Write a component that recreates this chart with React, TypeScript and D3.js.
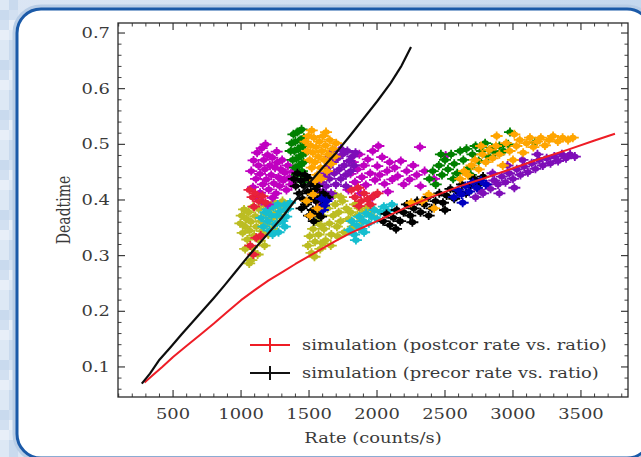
import React from 'react';
import * as d3 from 'd3';

// ---------- data ----------
const xTickValues = [500, 1000, 1500, 2000, 2500, 3000, 3500];
const yTickValues = [0.1, 0.2, 0.3, 0.4, 0.5, 0.6, 0.7];

// simulation (precor rate vs. ratio)
const precorRate = [270, 330, 400, 480, 560, 640, 720, 800, 880, 960, 1040, 1120, 1200, 1300, 1400, 1500, 1600, 1700, 1800, 1900, 2000, 2100, 2180, 2250];
const precorDead = [0.070, 0.088, 0.113, 0.135, 0.158, 0.180, 0.202, 0.224, 0.247, 0.271, 0.295, 0.318, 0.340, 0.368, 0.400, 0.430, 0.458, 0.485, 0.515, 0.546, 0.577, 0.610, 0.641, 0.675];

// simulation (postcor rate vs. ratio)
const postcorRate = [290, 350, 420, 500, 600, 700, 800, 900, 1000, 1100, 1200, 1300, 1400, 1500, 1600, 1700, 1800, 1900, 2000, 2200, 2400, 2600, 2800, 3000, 3200, 3400, 3600, 3750];
const postcorDead = [0.072, 0.085, 0.100, 0.118, 0.138, 0.158, 0.178, 0.199, 0.220, 0.238, 0.255, 0.270, 0.285, 0.299, 0.313, 0.327, 0.340, 0.351, 0.362, 0.385, 0.405, 0.424, 0.440, 0.457, 0.474, 0.490, 0.507, 0.519];

// observation groups: [rate, deadtime]
const olivePts: [number, number][] = [
  [995, 0.358], [1005, 0.372], [1012, 0.341], [1022, 0.383], [1030, 0.352], [1040, 0.366], [1046, 0.329], [1055, 0.378], [1063, 0.345], [1072, 0.361],
  [1080, 0.315], [1088, 0.388], [1096, 0.336], [1105, 0.371], [1113, 0.352], [1122, 0.302], [1130, 0.384], [1138, 0.327], [1146, 0.362], [1155, 0.344],
  [1164, 0.392], [1173, 0.318], [1182, 0.375], [1191, 0.356], [1200, 0.338], [1210, 0.384], [1220, 0.366], [1231, 0.348], [1242, 0.396], [1253, 0.376],
  [1265, 0.358], [1278, 0.388], [1291, 0.370], [1305, 0.398], [1320, 0.382], [1340, 0.392], [1076, 0.292], [1100, 0.305], [1030, 0.312], [1060, 0.286],
  [1492, 0.318], [1505, 0.335], [1518, 0.305], [1530, 0.348], [1544, 0.325], [1556, 0.362], [1570, 0.338], [1583, 0.312], [1596, 0.372], [1610, 0.348],
  [1622, 0.328], [1636, 0.385], [1650, 0.358], [1664, 0.338], [1678, 0.372], [1692, 0.392], [1705, 0.352], [1718, 0.378], [1732, 0.362], [1746, 0.398],
  [1760, 0.342], [1775, 0.385], [1790, 0.366], [1805, 0.378], [1822, 0.352], [1838, 0.392], [1855, 0.372], [1872, 0.385], [1890, 0.362], [1910, 0.378],
  [1932, 0.388], [1955, 0.372], [1980, 0.382], [1540, 0.298], [1600, 0.322], [1660, 0.318], [1710, 0.335], [1585, 0.355], [1735, 0.405], [1690, 0.410],
];
const cyanPts: [number, number][] = [
  [1148, 0.368], [1165, 0.352], [1180, 0.378], [1196, 0.362], [1210, 0.345], [1224, 0.372], [1238, 0.388], [1250, 0.356], [1263, 0.372], [1276, 0.342],
  [1290, 0.380], [1303, 0.362], [1318, 0.391], [1332, 0.370], [1346, 0.384], [1360, 0.395], [1232, 0.338], [1270, 0.392], [1195, 0.383], [1322, 0.352],
  [1798, 0.346], [1815, 0.362], [1832, 0.338], [1850, 0.355], [1868, 0.370], [1885, 0.348], [1902, 0.362], [1920, 0.376], [1940, 0.358], [1960, 0.370],
  [1980, 0.382], [2002, 0.366], [2025, 0.378], [2050, 0.388], [2080, 0.380], [2110, 0.392], [1845, 0.328], [1905, 0.342],
];
const magentaPts: [number, number][] = [
  [1075, 0.452], [1092, 0.471], [1110, 0.438], [1118, 0.485], [1128, 0.462], [1140, 0.447], [1152, 0.493], [1160, 0.428], [1167, 0.472], [1175, 0.455],
  [1186, 0.437], [1195, 0.481], [1204, 0.419], [1212, 0.462], [1222, 0.445], [1230, 0.476], [1241, 0.430], [1250, 0.458], [1258, 0.412], [1266, 0.467],
  [1275, 0.441], [1284, 0.425], [1293, 0.455], [1302, 0.472], [1310, 0.435], [1322, 0.449], [1334, 0.418], [1345, 0.462], [1356, 0.440], [1370, 0.428],
  [1383, 0.452], [1398, 0.436], [1108, 0.405], [1150, 0.398], [1196, 0.392], [1232, 0.404], [1088, 0.423], [1262, 0.487], [1180, 0.500], [1140, 0.413],
  [1790, 0.418], [1805, 0.447], [1822, 0.468], [1838, 0.432], [1856, 0.455], [1870, 0.482], [1889, 0.441], [1903, 0.462], [1918, 0.427], [1932, 0.473],
  [1950, 0.448], [1968, 0.488], [1985, 0.436], [2002, 0.461], [2020, 0.445], [2038, 0.477], [2055, 0.429], [2074, 0.452], [2093, 0.468], [2112, 0.437],
  [2130, 0.458], [2152, 0.443], [2175, 0.470], [2196, 0.428], [2218, 0.452], [2240, 0.437], [2266, 0.462], [2292, 0.445], [2320, 0.425], [2350, 0.452],
  [2316, 0.495], [2505, 0.480], [2010, 0.497], [1880, 0.412], [2080, 0.415], [2420, 0.438], [1965, 0.405],
];
const redPts: [number, number][] = [
  [1062, 0.418], [1085, 0.405], [1104, 0.412], [1130, 0.398], [1158, 0.407], [1180, 0.395], [1096, 0.388], [1112, 0.332], [1068, 0.318], [1145, 0.336], [1090, 0.302],
  [1812, 0.418], [1838, 0.405], [1861, 0.422], [1884, 0.398], [1905, 0.412], [1928, 0.401], [1952, 0.392], [1975, 0.407], [2004, 0.412], [1866, 0.389],
];
const greenPts: [number, number][] = [
  [1372, 0.502], [1385, 0.518], [1392, 0.488], [1400, 0.505], [1408, 0.474], [1415, 0.522], [1420, 0.492], [1428, 0.462], [1435, 0.508], [1441, 0.480],
  [1448, 0.452], [1455, 0.497], [1460, 0.468], [1468, 0.443], [1474, 0.485], [1380, 0.472], [1398, 0.458], [1445, 0.527], [1462, 0.512], [1410, 0.445],
  [1452, 0.432], [1365, 0.488],
  [2385, 0.438], [2410, 0.452], [2432, 0.428], [2455, 0.462], [2478, 0.445], [2500, 0.472], [2522, 0.455], [2545, 0.482], [2568, 0.465], [2590, 0.448],
  [2612, 0.488], [2635, 0.472], [2658, 0.492], [2680, 0.458], [2702, 0.482], [2725, 0.497], [2748, 0.470], [2772, 0.488], [2795, 0.502], [2820, 0.478],
  [2845, 0.494], [2870, 0.485], [2900, 0.497], [2930, 0.488], [2965, 0.500], [3160, 0.503], [2978, 0.522], [2560, 0.438], [2690, 0.445], [2470, 0.482],
];
const purplePts: [number, number][] = [
  [1552, 0.398], [1565, 0.418], [1578, 0.405], [1590, 0.432], [1602, 0.415], [1615, 0.445], [1626, 0.425], [1638, 0.458], [1650, 0.438], [1662, 0.412],
  [1674, 0.468], [1686, 0.448], [1698, 0.428], [1710, 0.475], [1722, 0.455], [1734, 0.438], [1746, 0.482], [1758, 0.462], [1770, 0.445], [1782, 0.488],
  [1794, 0.470], [1806, 0.452], [1818, 0.478], [1830, 0.462], [1842, 0.485], [1600, 0.392], [1640, 0.402], [1690, 0.488], [1735, 0.492], [1580, 0.445],
  [1660, 0.478], [1772, 0.425],
  [2725, 0.405], [2752, 0.418], [2780, 0.412], [2808, 0.428], [2835, 0.420], [2862, 0.435], [2890, 0.428], [2918, 0.442], [2945, 0.432], [2972, 0.448],
  [3000, 0.438], [3028, 0.455], [3055, 0.445], [3082, 0.460], [3110, 0.450], [3138, 0.466], [3165, 0.456], [3192, 0.472], [3220, 0.462], [3248, 0.475],
  [3276, 0.466], [3304, 0.478], [3332, 0.470], [3360, 0.482], [3390, 0.475], [3420, 0.482], [3455, 0.478], [2850, 0.448], [2960, 0.462], [3070, 0.472],
  [3180, 0.482], [2900, 0.412], [3010, 0.422],
];
const blackPts: [number, number][] = [
  [1388, 0.438], [1402, 0.425], [1415, 0.448], [1428, 0.412], [1440, 0.435], [1452, 0.402], [1465, 0.425], [1478, 0.392], [1490, 0.415], [1502, 0.438],
  [1515, 0.402], [1528, 0.382], [1540, 0.418], [1552, 0.398], [1565, 0.375], [1578, 0.408], [1590, 0.388], [1605, 0.412], [1620, 0.398], [1636, 0.405],
  [1500, 0.372], [1535, 0.362], [1470, 0.445], [1445, 0.385], [1512, 0.428], [1560, 0.425], [1588, 0.370],
  [2045, 0.362], [2070, 0.375], [2095, 0.355], [2120, 0.368], [2145, 0.382], [2170, 0.362], [2195, 0.378], [2220, 0.392], [2245, 0.372], [2270, 0.385],
  [2295, 0.398], [2320, 0.378], [2348, 0.392], [2375, 0.405], [2402, 0.385], [2430, 0.398], [2458, 0.412], [2485, 0.395], [2512, 0.408], [2540, 0.420],
  [2568, 0.402], [2596, 0.415], [2625, 0.428], [2655, 0.412], [2685, 0.425], [2715, 0.438], [2745, 0.428], [2780, 0.442], [2140, 0.348], [2260, 0.360],
  [2380, 0.372], [2500, 0.382],
];
const bluePts: [number, number][] = [
  [1592, 0.402], [1610, 0.390], [1628, 0.398], [1602, 0.382],
  [2565, 0.405], [2595, 0.418], [2622, 0.410], [2650, 0.425], [2678, 0.415], [2705, 0.432], [2735, 0.422], [2765, 0.435], [2800, 0.428], [2630, 0.395],
];
const orangePts: [number, number][] = [
  [1475, 0.505], [1488, 0.488], [1496, 0.515], [1505, 0.472], [1512, 0.498], [1520, 0.458], [1528, 0.485], [1536, 0.512], [1544, 0.468], [1552, 0.495],
  [1560, 0.445], [1568, 0.478], [1576, 0.505], [1585, 0.458], [1594, 0.488], [1602, 0.515], [1612, 0.472], [1622, 0.498], [1632, 0.452], [1642, 0.482],
  [1652, 0.508], [1662, 0.465], [1674, 0.492], [1688, 0.478], [1700, 0.502], [1545, 0.435], [1590, 0.438], [1520, 0.525], [1625, 0.522],
  [1530, 0.410], [1482, 0.398], [1562, 0.385], [1508, 0.372],
  [2612, 0.438], [2640, 0.452], [2668, 0.445], [2695, 0.462], [2722, 0.472], [2748, 0.455], [2775, 0.482], [2800, 0.468], [2825, 0.490], [2850, 0.475],
  [2875, 0.497], [2900, 0.482], [2925, 0.462], [2950, 0.502], [2975, 0.488], [3000, 0.472], [3025, 0.497], [3050, 0.508], [3075, 0.485], [3100, 0.502],
  [3125, 0.512], [3150, 0.495], [3178, 0.505], [3205, 0.512], [3235, 0.498], [3265, 0.508], [3295, 0.515], [3330, 0.505], [3365, 0.512], [3405, 0.508],
  [3440, 0.512], [2880, 0.515], [2765, 0.497], [3010, 0.518],
  [2380, 0.410], [2330, 0.398], [2252, 0.395], [2420, 0.385],
];

const legendLabels = ['simulation (postcor rate vs. ratio)', 'simulation (precor rate vs. ratio)'];

// ---------- drawing ----------
const W = 641;
const H = 457;
const FONT = 'DejaVu Serif';
const SX = 1.28;
const TXT = '#3a3a3a';

function T(props: { x: number; y: number; anchor?: string; children: React.ReactNode }) {
  return (
    <text
      transform={`translate(${props.x},${props.y}) scale(${SX},1)`}
      textAnchor={props.anchor || 'start'}
      fontFamily={FONT}
      fontSize={14}
      fill={TXT}
    >
      {props.children}
    </text>
  );
}

const shades = ['#dde8f5', '#e8eff8', '#d2e0f1', '#c9daee'];

export default function App() {
  const x = d3.scaleLinear().domain([95, 3846]).range([118, 628]);
  const y = d3.scaleLinear().domain([0.046, 0.718]).range([397, 23]);
  const [x0, x1] = x.range();
  const [y0, y1] = y.range();

  const line = d3.line<[number, number]>().x((d) => x(d[0])).y((d) => y(d[1]));
  const precor: [number, number][] = precorRate.map((r, i) => [r, precorDead[i]]);
  const postcor: [number, number][] = postcorRate.map((r, i) => [r, postcorDead[i]]);

  const series = [
    { c: '#bcbd22', pts: olivePts },
    { c: '#17becf', pts: cyanPts },
    { c: '#c000c0', pts: magentaPts },
    { c: '#e8203a', pts: redPts },
    { c: '#008000', pts: greenPts },
    { c: '#7e0fb8', pts: purplePts },
    { c: '#000000', pts: blackPts },
    { c: '#0000c0', pts: bluePts },
    { c: '#ffa500', pts: orangePts },
  ];

  const xMinor = d3.range(100, 3850, 100).filter((v) => v % 500 !== 0);
  const yMinor = d3.range(0.06, 0.72, 0.02).filter((v) => Math.abs(v * 10 - Math.round(v * 10)) > 0.01);

  const MJ = 7;
  const MN = 3.5;

  const squares: JSX.Element[] = [];
  for (let j = 0; j < 47; j++) {
    for (let i = 0; i < 2; i++) {
      squares.push(
        <rect key={`s${i}-${j}`} x={i * 9} y={j * 10} width={9} height={10} fill={shades[(i * 3 + j * 7 + Math.floor(j / 5)) % 4]} />
      );
    }
  }

  return (
    <svg width={W} height={H} style={{ position: 'absolute', left: 0, top: 0 }}>
      <defs>
        <linearGradient id="bgGrad" x1="0" y1="0" x2="1" y2="0">
          <stop offset="0" stopColor="#dbe6f4" />
          <stop offset="1" stopColor="#c5d8ee" />
        </linearGradient>
        <filter id="soft" x="-5%" y="-5%" width="110%" height="110%">
          <feGaussianBlur stdDeviation="0.45" />
        </filter>
      </defs>
      <rect x={0} y={0} width={W} height={H} fill="url(#bgGrad)" />
      {squares}
      <rect x={17} y={9} width={634} height={449} rx={24} ry={24} fill="none" stroke="#b8cde6" strokeWidth={9} />
      <rect x={17} y={9} width={634} height={449} rx={24} ry={24} fill="#ffffff" stroke="#1b5aa8" strokeWidth={3} />

      <g filter="url(#soft)">
        {series.map((s, si) => (
          <g key={si} stroke={s.c} fill={s.c}>
            {s.pts.map((p, i) => {
              const cx = x(p[0]);
              const cy = y(p[1]);
              return (
                <g key={i}>
                  <path d={`M${cx - 6},${cy}H${cx + 6}M${cx},${cy - 4.5}V${cy + 4.5}`} strokeWidth={1.8} fill="none" />
                  <ellipse cx={cx} cy={cy} rx={3.8} ry={2.9} stroke="none" />
                </g>
              );
            })}
          </g>
        ))}

        <path d={line(postcor) || ''} fill="none" stroke="#ee1c25" strokeWidth={2} strokeLinejoin="round" />
        <path d={line(precor) || ''} fill="none" stroke="#111111" strokeWidth={2.2} strokeLinejoin="round" />
      </g>

      <rect x={x0} y={y1} width={x1 - x0} height={y0 - y1} fill="none" stroke="#2a2a2a" strokeWidth={1.3} />

      {xTickValues.map((v) => (
        <g key={`xt${v}`} stroke="#2a2a2a" strokeWidth={1.1}>
          <line x1={x(v)} x2={x(v)} y1={y0} y2={y0 - MJ} />
          <line x1={x(v)} x2={x(v)} y1={y1} y2={y1 + MJ} />
        </g>
      ))}
      {xMinor.map((v) => (
        <g key={`xm${v}`} stroke="#2a2a2a" strokeWidth={0.9}>
          <line x1={x(v)} x2={x(v)} y1={y0} y2={y0 - MN} />
          <line x1={x(v)} x2={x(v)} y1={y1} y2={y1 + MN} />
        </g>
      ))}
      {yTickValues.map((v) => (
        <g key={`yt${v}`} stroke="#2a2a2a" strokeWidth={1.1}>
          <line x1={x0} x2={x0 + MJ} y1={y(v)} y2={y(v)} />
          <line x1={x1} x2={x1 - MJ} y1={y(v)} y2={y(v)} />
        </g>
      ))}
      {yMinor.map((v, i) => (
        <g key={`ym${i}`} stroke="#2a2a2a" strokeWidth={0.9}>
          <line x1={x0} x2={x0 + MN} y1={y(v)} y2={y(v)} />
          <line x1={x1} x2={x1 - MN} y1={y(v)} y2={y(v)} />
        </g>
      ))}

      {xTickValues.map((v) => (
        <T key={`xl${v}`} x={x(v)} y={419} anchor="middle">
          {String(v)}
        </T>
      ))}
      {yTickValues.map((v) => (
        <T key={`yl${v}`} x={110} y={y(v) + 5} anchor="end">
          {v.toFixed(1)}
        </T>
      ))}

      <T x={(x0 + x1) / 2} y={443} anchor="middle">
        Rate (counts/s)
      </T>
      <text
        transform={`translate(70,${(y0 + y1) / 2}) rotate(-90) scale(1,${SX})`}
        textAnchor="middle"
        fontFamily={FONT}
        fontSize={14}
        fill={TXT}
      >
        Deadtime
      </text>

      {[
        { c: '#ee1c25', label: legendLabels[0], cy: 345 },
        { c: '#111111', label: legendLabels[1], cy: 373 },
      ].map((e, i) => (
        <g key={`lg${i}`}>
          <path d={`M250,${e.cy}H290M270,${e.cy - 7}V${e.cy + 7}`} stroke={e.c} strokeWidth={2} fill="none" />
          <T x={302} y={e.cy + 5}>
            {e.label}
          </T>
        </g>
      ))}
    </svg>
  );
}
